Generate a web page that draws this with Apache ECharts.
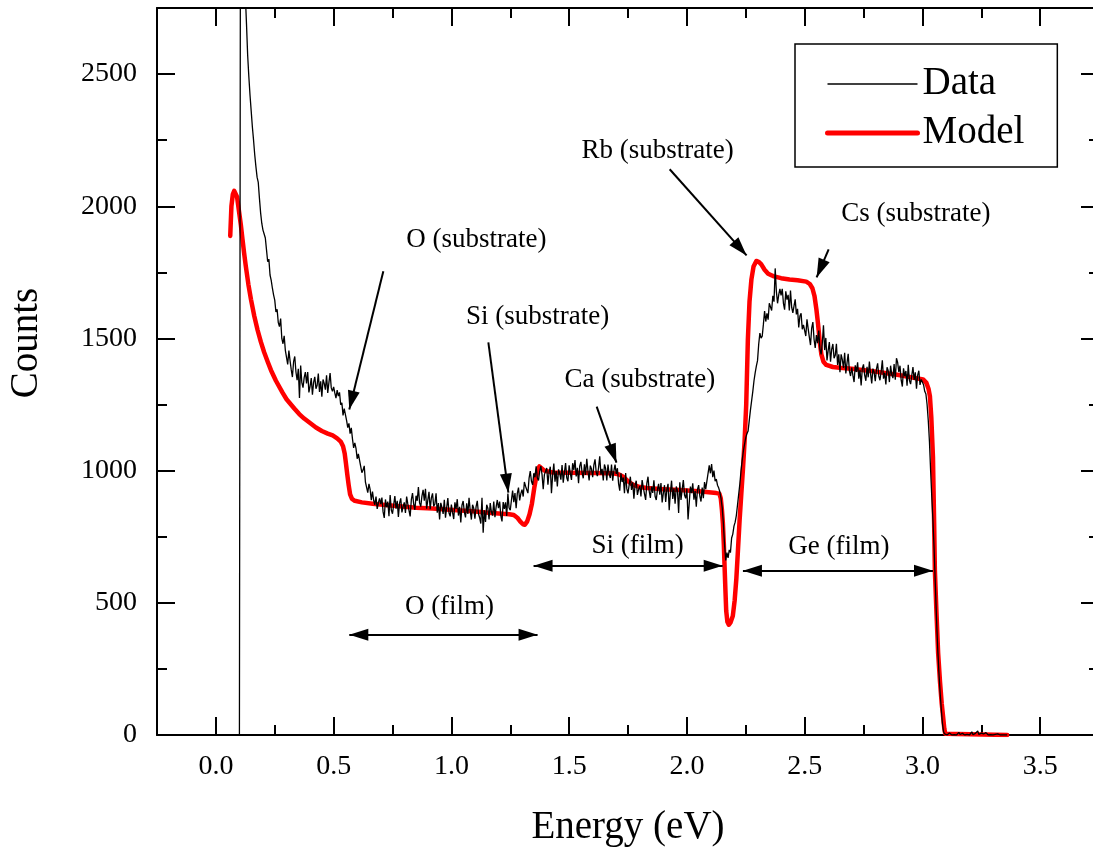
<!DOCTYPE html>
<html>
<head>
<meta charset="utf-8">
<script src="https://cdn.jsdelivr.net/npm/echarts@6/dist/echarts.min.js"></script>
<style>
  html, body { margin: 0; padding: 0; background: #fff; overflow: hidden; }
  #chart { width: 1100px; height: 848px; }
</style>
</head>
<body>
<div id="chart"></div>
<script>
// Measured spectrum: counts per channel, channels start at 0.100 eV, 0.005 eV wide
const channelStart = 0.100;
const channelWidth = 0.005;
const dataCounts = [
  // 0.100 - 0.195
  0, 3600, 3350, 3120, 2930, 2800, 2690, 2570, 2490, 2420, 2360, 2300, 2250, 2195, 2150, 2110, 2090, 2030, 1975, 1935,
  // 0.200 - 0.295
  1910, 1895, 1880, 1835, 1790, 1800, 1740, 1720, 1690, 1665, 1645, 1600, 1610, 1560, 1545, 1575, 1500, 1480, 1510, 1455,
  // 0.300 - 0.395
  1452, 1402, 1454, 1416, 1382, 1354, 1412, 1432, 1373, 1342, 1385, 1275, 1398, 1333, 1314, 1352, 1373, 1330, 1373, 1296,
  // 0.400 - 0.495
  1319, 1350, 1287, 1334, 1355, 1310, 1323, 1367, 1298, 1338, 1280, 1345, 1330, 1306, 1361, 1294, 1333, 1369, 1313, 1300,
  // 0.500 - 0.595
  1317, 1294, 1274, 1305, 1282, 1296, 1249, 1257, 1209, 1235, 1230, 1190, 1163, 1179, 1140, 1162, 1120, 1086, 1105, 1084,
  // 0.600 - 0.695
  1045, 1063, 1065, 1016, 992, 1002, 1018, 957, 959, 917, 950, 929, 888, 921, 888, 871, 902, 855, 878, 895,
  // 0.700 - 0.795
  873, 898, 844, 821, 891, 862, 883, 828, 908, 851, 837, 871, 904, 856, 886, 825, 877, 895, 842, 864,
  // 0.800 - 0.895
  880, 840, 902, 874, 850, 827, 890, 915, 873, 852, 905, 886, 938, 878, 864, 904, 927, 886, 931, 856,
  // 0.900 - 0.995
  889, 920, 854, 897, 914, 865, 874, 914, 841, 877, 815, 878, 861, 836, 890, 822, 860, 896, 840, 827,
  // 1.000 - 1.095
  872, 842, 817, 880, 855, 892, 830, 863, 804, 869, 885, 844, 823, 876, 836, 897, 849, 815, 871, 858,
  // 1.100 - 1.195
  818, 864, 886, 837, 822, 800, 897, 765, 850, 806, 871, 858, 815, 877, 843, 830, 883, 824, 862, 889,
  // 1.200 - 1.295
  858, 883, 829, 808, 881, 855, 880, 829, 913, 860, 850, 888, 925, 881, 915, 858, 914, 936, 887, 913,
  // 1.300 - 1.395
  928, 902, 957, 941, 928, 915, 972, 998, 960, 946, 990, 975, 1016, 972, 963, 997, 1017, 985, 930, 985,
  // 1.400 - 1.495
  979, 1010, 947, 994, 1015, 915, 983, 1027, 958, 998, 940, 1005, 990, 966, 1021, 954, 993, 1029, 973, 960,
  // 1.500 - 1.595
  1020, 990, 965, 1028, 1003, 1040, 978, 1011, 952, 1017, 1033, 992, 971, 1024, 984, 1045, 997, 963, 1019, 1006,
  // 1.600 - 1.695
  975, 1021, 1043, 994, 979, 1012, 1054, 985, 1007, 963, 1023, 1008, 963, 1023, 987, 972, 1023, 962, 998, 1023,
  // 1.700 - 1.795
  988, 1009, 951, 924, 990, 957, 974, 915, 991, 931, 914, 946, 977, 927, 956, 894, 945, 962, 908, 929,
  // 1.800 - 1.895
  942, 902, 964, 936, 912, 889, 952, 977, 923, 897, 940, 916, 963, 903, 889, 928, 950, 909, 953, 880,
  // 1.900 - 1.995
  914, 945, 882, 929, 950, 850, 918, 962, 893, 933, 875, 940, 925, 840, 956, 889, 928, 964, 908, 895,
  // 2.000 - 2.095
  932, 815, 877, 940, 915, 952, 890, 923, 864, 929, 945, 904, 883, 936, 896, 957, 930, 960, 955, 1020,
  // 2.100 - 2.195
  990, 1025, 975, 1000, 960, 968, 945, 935, 920, 895, 860, 800, 720, 660, 690, 670, 700, 690, 745, 760,
  // 2.200 - 2.295
  790, 805, 830, 870, 910, 950, 1000, 1040, 1075, 1100, 1125, 1140, 1150, 1190, 1230, 1265, 1300, 1340, 1370, 1395,
  // 2.300 - 2.395
  1416, 1478, 1520, 1501, 1509, 1554, 1604, 1564, 1595, 1571, 1633, 1632, 1606, 1661, 1639, 1765, 1678, 1633, 1665, 1688,
  // 2.400 - 2.495
  1663, 1688, 1633, 1609, 1678, 1647, 1665, 1606, 1681, 1618, 1597, 1623, 1648, 1591, 1612, 1542, 1585, 1595, 1535, 1551,
  // 2.500 - 2.595
  1558, 1509, 1572, 1537, 1505, 1475, 1539, 1562, 1497, 1464, 1513, 1482, 1530, 1460, 1440, 1481, 1550, 1456, 1502, 1417,
  // 2.600 - 2.695
  1455, 1486, 1412, 1460, 1479, 1425, 1436, 1480, 1400, 1440, 1372, 1440, 1420, 1389, 1446, 1368, 1407, 1442, 1377, 1358,
  // 2.700 - 2.795
  1390, 1360, 1335, 1398, 1373, 1410, 1348, 1381, 1322, 1387, 1402, 1361, 1340, 1393, 1353, 1413, 1366, 1330, 1386, 1373,
  // 2.800 - 2.895
  1338, 1384, 1406, 1357, 1342, 1375, 1417, 1348, 1370, 1326, 1391, 1378, 1335, 1397, 1363, 1350, 1403, 1344, 1425, 1409,
  // 2.900 - 2.995
  1373, 1397, 1342, 1318, 1387, 1357, 1377, 1321, 1400, 1342, 1327, 1360, 1392, 1343, 1372, 1310, 1361, 1378, 1324, 1345,
  // 3.000 - 3.095
  1340, 1325, 1300, 1290, 1250, 1190, 1110, 1000, 900, 810, 700, 570, 440, 330, 240, 165, 100, 45, 12, 4,
  // 3.100 - 3.195
  6, 0, 3, 8, 2, 0, 5, 1, 7, 0, 4, 10, 2, 0, 6, 3, 0, 5, 2, 8,
  // 3.200 - 3.295
  0, 4, 12, 1, 0, 6, 3, 15, 2, 0, 7, 1, 4, 0, 9, 2, 0, 5, 1, 3,
  // 3.300 - 3.360
  0, 6, 2, 0, 4, 1, 0, 3, 0, 2, 0, 1, 0
];

// Fitted model curve: [energy (eV), counts]
const modelCurve = [
  [0.061, 1888], [0.066, 2000], [0.072, 2045], [0.078, 2058], [0.084, 2052], [0.090, 2035],
  [0.099, 1976], [0.106, 1930], [0.113, 1875], [0.120, 1822], [0.127, 1774], [0.138, 1705],
  [0.149, 1648], [0.163, 1585], [0.177, 1532], [0.191, 1487], [0.205, 1448], [0.220, 1412],
  [0.234, 1380], [0.255, 1340], [0.283, 1295], [0.300, 1270], [0.333, 1235], [0.354, 1214],
  [0.375, 1197], [0.400, 1180], [0.425, 1163], [0.450, 1150], [0.475, 1140], [0.496, 1133],
  [0.515, 1122], [0.530, 1110], [0.540, 1092], [0.547, 1065], [0.552, 1030], [0.558, 985],
  [0.564, 945], [0.570, 910], [0.578, 893], [0.590, 886], [0.620, 880], [0.666, 875],
  [0.720, 870], [0.779, 865], [0.850, 860], [0.921, 857], [0.991, 852], [1.090, 846],
  [1.170, 840], [1.246, 835], [1.265, 832], [1.280, 822], [1.292, 808], [1.303, 798],
  [1.312, 795], [1.322, 808], [1.332, 835], [1.342, 875], [1.352, 935], [1.360, 975],
  [1.367, 1005], [1.374, 1016], [1.382, 1010], [1.395, 1000], [1.430, 993], [1.500, 992],
  [1.600, 991], [1.686, 990], [1.710, 986], [1.728, 978], [1.750, 960], [1.770, 947],
  [1.800, 938], [1.830, 934], [1.900, 930], [1.969, 927], [2.050, 922], [2.125, 915],
  [2.138, 913], [2.144, 895], [2.149, 850], [2.153, 800], [2.157, 720], [2.160, 640],
  [2.164, 540], [2.167, 470], [2.172, 428], [2.178, 417], [2.185, 425], [2.195, 450],
  [2.203, 510], [2.210, 590], [2.217, 700], [2.224, 814], [2.231, 910], [2.238, 1004],
  [2.245, 1110], [2.252, 1250], [2.259, 1496], [2.266, 1640], [2.274, 1723], [2.283, 1772],
  [2.295, 1793], [2.305, 1790], [2.316, 1780], [2.330, 1760], [2.345, 1745], [2.366, 1736],
  [2.400, 1728], [2.436, 1723], [2.470, 1720], [2.507, 1715], [2.522, 1706], [2.533, 1690],
  [2.542, 1660], [2.550, 1610], [2.557, 1555], [2.564, 1490], [2.571, 1440], [2.580, 1412],
  [2.592, 1400], [2.620, 1392], [2.649, 1389], [2.700, 1385], [2.790, 1376], [2.900, 1362],
  [3.003, 1345], [3.017, 1332], [3.026, 1310], [3.032, 1282], [3.038, 1200], [3.045, 1050],
  [3.050, 800], [3.053, 625], [3.060, 460], [3.067, 309], [3.075, 200], [3.082, 120],
  [3.088, 69], [3.093, 25], [3.097, 5], [3.100, 0], [3.360, 0]
];

// Axis ticks
const xMajorTicks = [0.0, 0.5, 1.0, 1.5, 2.0, 2.5, 3.0, 3.5];
const xMinorTicks = [0.25, 0.75, 1.25, 1.75, 2.25, 2.75, 3.25];
const yMajorTicks = [0, 500, 1000, 1500, 2000, 2500];
const yMinorTicks = [250, 750, 1250, 1750, 2250];

// Peak annotations: label text and its centre, in data units
const noteTexts = ['O (substrate)', 'Si (substrate)', 'Ca (substrate)', 'Rb (substrate)',
                   'Cs (substrate)', 'O (film)', 'Si (film)', 'Ge (film)'];
const noteX = [1.106, 1.366, 1.800, 1.876, 2.972, 0.992, 1.791, 2.645];
const noteY = [1871, 1580, 1345, 2208, 1970, 485, 716, 712];

// Arrows: [x1, y1, x2, y2, doubleHeaded]
const arrowLines = [
  [0.711, 1754, 0.5665, 1231, false],
  [1.157, 1485, 1.242, 917, false],
  [1.617, 1242, 1.701, 1030, false],
  [1.927, 2140, 2.2535, 1814, false],
  [2.602, 1837, 2.551, 1731, false],
  [0.5665, 379, 1.366, 379, true],
  [1.349, 640, 2.152, 640, true],
  [2.238, 621, 3.045, 621, true]
];

const FONT = '"Liberation Serif", "Times New Roman", serif';
// Triangular head (12 wide, 19 long) whose tip sits at the centre of a 38x38 box
const HEAD = 'path://M0,0 M38,38 M19,19 L25,38 L13,38 Z';

const dataSeries = dataCounts.map((c, i) => [+(channelStart + i * channelWidth).toFixed(3), c]);

function xAxisDef(pos, ticks, len, withLine, withLabel) {
  return {
    type: 'value', position: pos, min: -0.25, max: 3.75,
    axisLine: { show: withLine, onZero: false, lineStyle: { color: '#000', width: 2 } },
    axisTick: { show: true, inside: true, length: len, customValues: ticks,
                lineStyle: { color: '#000', width: 2 } },
    axisLabel: { show: withLabel, customValues: ticks, margin: 18,
                 formatter: v => v.toFixed(1),
                 color: '#000', fontSize: 28, fontFamily: FONT },
    splitLine: { show: false }
  };
}
function yAxisDef(pos, ticks, len, withLine, withLabel) {
  return {
    type: 'value', position: pos, min: 0, max: 2750,
    axisLine: { show: withLine, onZero: false, lineStyle: { color: '#000', width: 2 } },
    axisTick: { show: true, inside: true, length: len, customValues: ticks,
                lineStyle: { color: '#000', width: 2 } },
    axisLabel: { show: withLabel, customValues: ticks, margin: 20,
                 formatter: v => String(v),
                 color: '#000', fontSize: 28, fontFamily: FONT },
    splitLine: { show: false }
  };
}

const xBottom = xAxisDef('bottom', xMajorTicks, 18, true, true);
xBottom.name = 'Energy (eV)';
xBottom.nameLocation = 'middle';
xBottom.nameGap = 73;
xBottom.nameTextStyle = { color: '#000', fontSize: 39, fontFamily: FONT };

const yLeft = yAxisDef('left', yMajorTicks, 18, true, true);
yLeft.name = 'Counts';
yLeft.nameLocation = 'middle';
yLeft.nameGap = 111;
yLeft.nameTextStyle = { color: '#000', fontSize: 39, fontFamily: FONT, padding: [0, 0, 0, 57] };

const chart = echarts.init(document.getElementById('chart'), null, { renderer: 'canvas' });
chart.setOption({
  backgroundColor: '#fff',
  animation: false,
  grid: { left: 157, right: 1, top: 8, bottom: 113, containLabel: false, outerBoundsMode: 'none' },
  xAxis: [
    xBottom,
    xAxisDef('bottom', xMinorTicks, 10, false, false),
    xAxisDef('top', xMajorTicks, 18, true, false),
    xAxisDef('top', xMinorTicks, 10, false, false)
  ],
  yAxis: [
    yLeft,
    yAxisDef('left', yMinorTicks, 10, false, false),
    yAxisDef('right', yMajorTicks, 18, true, false),
    yAxisDef('right', yMinorTicks, 10, false, false)
  ],
  legend: {
    data: [
      { name: 'Data', lineStyle: { color: '#000', width: 1.3 } },
      { name: 'Model', lineStyle: { color: '#ff0000', width: 5, cap: 'round' } }
    ],
    orient: 'vertical',
    left: 795, top: 44,
    padding: [20, 33, 14, 30],
    itemWidth: 90, itemHeight: 20, itemGap: 9,
    borderColor: '#000', borderWidth: 1.5,
    backgroundColor: '#fff',
    selectedMode: false,
    itemStyle: { opacity: 0 },
    textStyle: { color: '#000', fontSize: 39, lineHeight: 40, fontFamily: FONT }
  },
  series: [
    {
      name: 'Data', type: 'line', data: dataSeries,
      xAxisIndex: 0, yAxisIndex: 0,
      symbol: 'none', z: 3, clip: true,
      lineStyle: { color: '#000', width: 1.3 },
      itemStyle: { color: '#000' }
    },
    {
      name: 'Model', type: 'line', data: modelCurve,
      xAxisIndex: 0, yAxisIndex: 0,
      symbol: 'none', z: 2, clip: true,
      lineStyle: { color: '#ff0000', width: 4.5, join: 'round', cap: 'round' },
      itemStyle: { color: '#ff0000' },
      markLine: {
        silent: true, animation: false,
        symbol: ['none', HEAD],
        symbolSize: 38,
        lineStyle: { color: '#000', width: 2, type: 'solid' },
        label: { show: false },
        emphasis: { disabled: true },
        data: arrowLines.map(a => [
          a[4] ? { coord: [a[0], a[1]], symbol: HEAD } : { coord: [a[0], a[1]] },
          { coord: [a[2], a[3]] }
        ])
      },
      markPoint: {
        silent: true, animation: false,
        symbol: 'circle', symbolSize: 0,
        itemStyle: { color: 'rgba(0,0,0,0)' },
        label: { show: true, position: 'inside', formatter: '{b}',
                 color: '#000', fontSize: 27, fontFamily: FONT },
        data: noteTexts.map((t, i) => ({ name: t, coord: [noteX[i], noteY[i]] }))
      }
    }
  ]
});
</script>
</body>
</html>
